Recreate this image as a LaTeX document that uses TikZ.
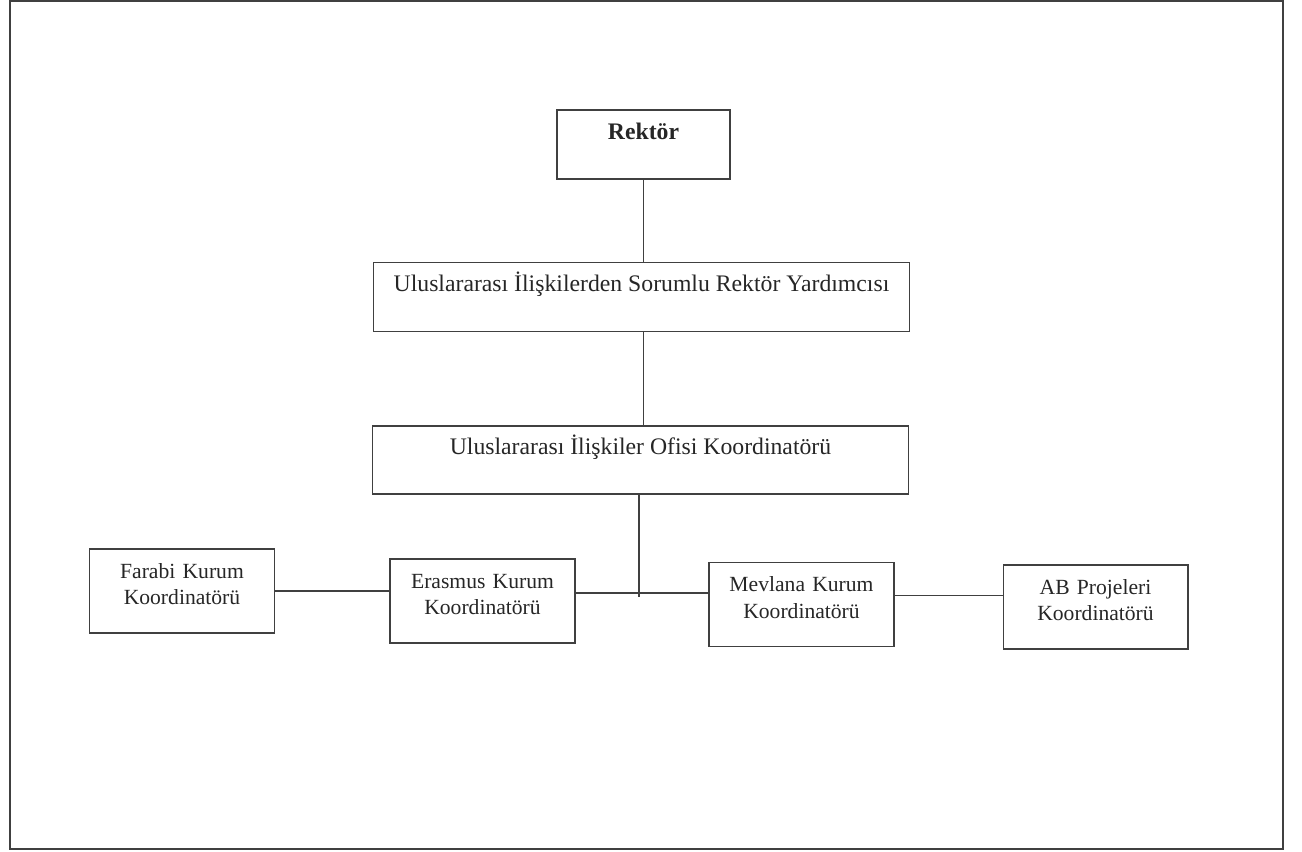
\documentclass[tikz,border=0pt]{standalone}
\usepackage{fontspec}
\setmainfont{Liberation Serif}
\begin{document}
\begin{tikzpicture}
    [x=0.02cm, y=-0.02cm,
    kutu/.style={draw=black!75, line width=0.6pt, rectangle, inner sep=0pt, text=black!85},
    ustkutu/.style={kutu, minimum width=10.74cm, minimum height=1.38cm,
        font=\fontsize{13.5}{16}\selectfont, text height=10pt, text depth=16pt},
    altkutu/.style={kutu, minimum width=3.7cm, minimum height=1.68cm, text width=3.5cm, align=center,
        font=\fontsize{12.3}{15.1}\selectfont, text height=9pt, text depth=23.5pt},
    baglanti/.style={draw=black!75, line width=0.6pt}]

\useasboundingbox (0,0) rectangle (1302,852);
\draw[baglanti] (10,1) rectangle (1283,849);

\node[ustkutu, minimum width=3.46cm, font=\fontsize{13.5}{16}\selectfont\bfseries] (rektor) at (643.5,144.5) {Rektör};
\node[ustkutu] (yardimci) at (641.5,297) {Uluslararası İlişkilerden Sorumlu Rektör Yardımcısı};
\node[ustkutu, minimum height=1.36cm] (ofis) at (640.5,460) {Uluslararası İlişkiler Ofisi Koordinatörü};
\node[altkutu] (farabi) at (182,591) {Farabi Kurum\\Koordinatörü};
\node[altkutu] (erasmus) at (482.5,601) {Erasmus Kurum\\Koordinatörü};
\node[altkutu] (mevlana) at (801.5,604.5) {Mevlana Kurum\\Koordinatörü};
\node[altkutu] (ab) at (1095.5,607) {AB Projeleri\\Koordinatörü};

\coordinate (bus) at (639,593);
\coordinate (hub) at (639,597);
\draw[baglanti] (rektor.south) -- (rektor.south |- yardimci.north);
\draw[baglanti] (yardimci.south -| rektor.south) -- (rektor.south |- ofis.north);
\draw[baglanti] (ofis.south -| hub) -- (hub);
\draw[baglanti] (farabi.east) -- (farabi.east -| erasmus.west);
\draw[baglanti] (erasmus.east |- bus) -- (mevlana.west |- bus);
\draw[baglanti] ([yshift=5pt]mevlana.east) -- ([yshift=5pt]mevlana.east -| ab.west);
\end{tikzpicture}
\end{document}
